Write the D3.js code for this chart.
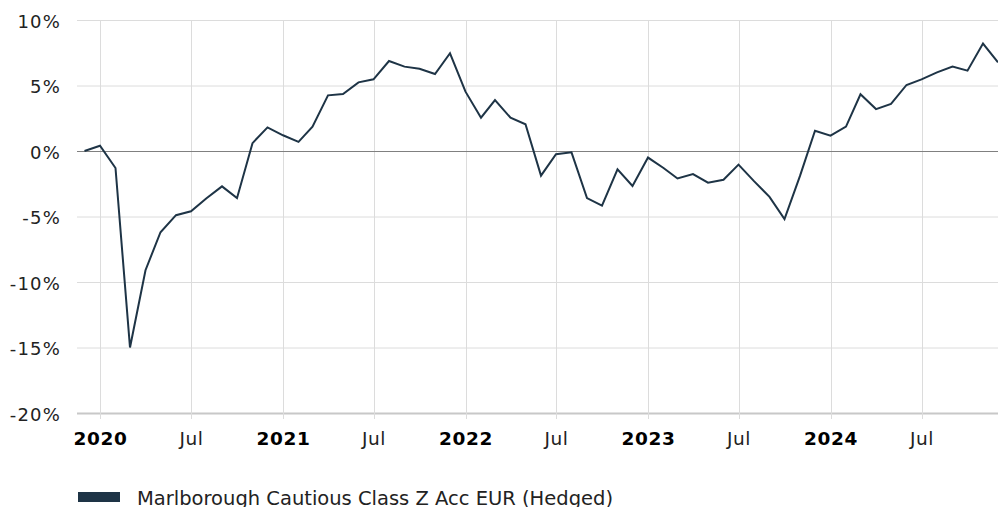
<!DOCTYPE html>
<html>
<head>
<meta charset="utf-8">
<script src="https://cdn.jsdelivr.net/npm/d3@7"></script>
<style>
  body { margin: 0; background: #fff; }
  svg { font-family: "DejaVu Sans", Verdana, sans-serif; }
  .grid line { stroke: #dcdcdc; stroke-width: 1; }
</style>
</head>
<body>
<div id="chart"></div>
<script>
var seriesName = "Marlborough Cautious Class Z Acc EUR (Hedged)";

// month start dates, Dec 2019 .. Dec 2024
var months = [
  "2019-12", "2020-01", "2020-02", "2020-03", "2020-04", "2020-05", "2020-06", "2020-07", "2020-08", "2020-09", "2020-10", "2020-11", "2020-12",
  "2021-01", "2021-02", "2021-03", "2021-04", "2021-05", "2021-06", "2021-07", "2021-08", "2021-09", "2021-10", "2021-11", "2021-12",
  "2022-01", "2022-02", "2022-03", "2022-04", "2022-05", "2022-06", "2022-07", "2022-08", "2022-09", "2022-10", "2022-11", "2022-12",
  "2023-01", "2023-02", "2023-03", "2023-04", "2023-05", "2023-06", "2023-07", "2023-08", "2023-09", "2023-10", "2023-11", "2023-12",
  "2024-01", "2024-02", "2024-03", "2024-04", "2024-05", "2024-06", "2024-07", "2024-08", "2024-09", "2024-10", "2024-11", "2024-12"
];

// cumulative return, %
var returns = [
  0.0, 0.4, -1.3, -15.0, -9.1, -6.2, -4.9, -4.6, -3.6, -2.7, -3.6, 0.6, 1.8,
  1.2, 0.7, 1.85, 4.25, 4.35, 5.24, 5.47, 6.87, 6.44, 6.28, 5.88, 7.46,
  4.53, 2.54, 3.89, 2.54, 2.04, -1.88, -0.25, -0.1, -3.6, -4.17, -1.4, -2.67,
  -0.5, -1.3, -2.1, -1.76, -2.42, -2.2, -1.04, -2.3, -3.5, -5.2, -1.9, 1.55,
  1.17, 1.86, 4.33, 3.2, 3.6, 5.04, 5.47, 6.0, 6.44, 6.13, 8.2, 6.77
];

var yTicks = [10, 5, 0, -5, -10, -15, -20];
var xTickDates = ["2020-01", "2020-07", "2021-01", "2021-07", "2022-01", "2022-07", "2023-01", "2023-07", "2024-01", "2024-07"];

var W = 998, H = 507;
var margin = { top: 20, right: 0, bottom: 94, left: 77 };

var parseMonth = d3.timeParse("%Y-%m");
var data = months.map(function (m, i) { return { date: parseMonth(m), value: returns[i] }; });

var svg = d3.select("#chart").append("svg")
  .attr("width", W)
  .attr("height", H);

var x = d3.scaleTime()
  .domain([new Date(2019, 10, 16), new Date(2024, 11, 1)])
  .range([margin.left, W - margin.right]);

var y = d3.scaleLinear()
  .domain([-20, 10])
  .range([H - margin.bottom, margin.top]);

// horizontal grid
svg.append("g").attr("class", "grid")
  .selectAll("line")
  .data(yTicks)
  .enter().append("line")
  .attr("x1", margin.left)
  .attr("x2", W - margin.right)
  .attr("y1", function (d) { return y(d) + 0.5; })
  .attr("y2", function (d) { return y(d) + 0.5; })
  .style("stroke", function (d) { return d === -20 ? "#c8c8c8" : "#dcdcdc"; })
  .style("stroke-width", function (d) { return d === -20 ? 2 : 1; });

// vertical grid + small ticks below axis
var xTicks = xTickDates.map(parseMonth);
svg.append("g").attr("class", "grid")
  .selectAll("line")
  .data(xTicks)
  .enter().append("line")
  .attr("x1", function (d) { return Math.round(x(d)) + 0.5; })
  .attr("x2", function (d) { return Math.round(x(d)) + 0.5; })
  .attr("y1", margin.top)
  .attr("y2", H - margin.bottom + 6);

// zero line
svg.append("line")
  .attr("x1", margin.left)
  .attr("x2", W - margin.right)
  .attr("y1", y(0) + 0.5)
  .attr("y2", y(0) + 0.5)
  .style("stroke", "#808080")
  .style("stroke-width", 1);

// y labels
var yAxis = d3.axisLeft(y)
  .tickValues(yTicks)
  .tickSize(0)
  .tickPadding(16)
  .tickFormat(function (d) { return d + "%"; });

svg.append("g")
  .attr("transform", "translate(" + margin.left + ",0)")
  .call(yAxis)
  .call(function (g) { g.select(".domain").remove(); })
  .selectAll("text")
  .style("font-size", "18px")
  .style("letter-spacing", "1.2px")
  .style("font-family", "'DejaVu Sans', Verdana, sans-serif")
  .style("fill", "#222")
  .attr("dy", "0.4em");

// x labels
var xAxis = d3.axisBottom(x)
  .tickValues(xTicks)
  .tickSize(0)
  .tickPadding(19)
  .tickFormat(function (d) { return d.getMonth() === 0 ? d3.timeFormat("%Y")(d) : d3.timeFormat("%b")(d); });

svg.append("g")
  .attr("transform", "translate(0," + (H - margin.bottom) + ")")
  .call(xAxis)
  .call(function (g) { g.select(".domain").remove(); })
  .selectAll("text")
  .style("font-size", "18.5px")
  .style("letter-spacing", "0.6px")
  .style("font-family", "'DejaVu Sans', Verdana, sans-serif")
  .style("fill", function (d) { return d.getMonth() === 0 ? "#000" : "#222"; })
  .style("font-weight", function (d) { return d.getMonth() === 0 ? "bold" : "normal"; });

// the line
var line = d3.line()
  .x(function (d) { return x(d.date); })
  .y(function (d) { return y(d.value); });

svg.append("defs").append("clipPath").attr("id", "clip")
  .append("rect")
  .attr("x", margin.left).attr("y", 0)
  .attr("width", W - margin.left - margin.right).attr("height", H);

svg.append("path")
  .datum(data)
  .attr("clip-path", "url(#clip)")
  .attr("d", line)
  .style("fill", "none")
  .style("stroke", "#1e3446")
  .style("stroke-width", 2)
  .style("stroke-linejoin", "miter");

// legend
var legend = svg.append("g").attr("transform", "translate(78,492)");
legend.append("rect")
  .attr("width", 42)
  .attr("height", 10)
  .style("fill", "#1e3446");
legend.append("text")
  .attr("x", 59)
  .attr("y", 13)
  .style("font-size", "19.5px")
  .style("fill", "#222")
  .text(seriesName);
</script>
</body>
</html>
